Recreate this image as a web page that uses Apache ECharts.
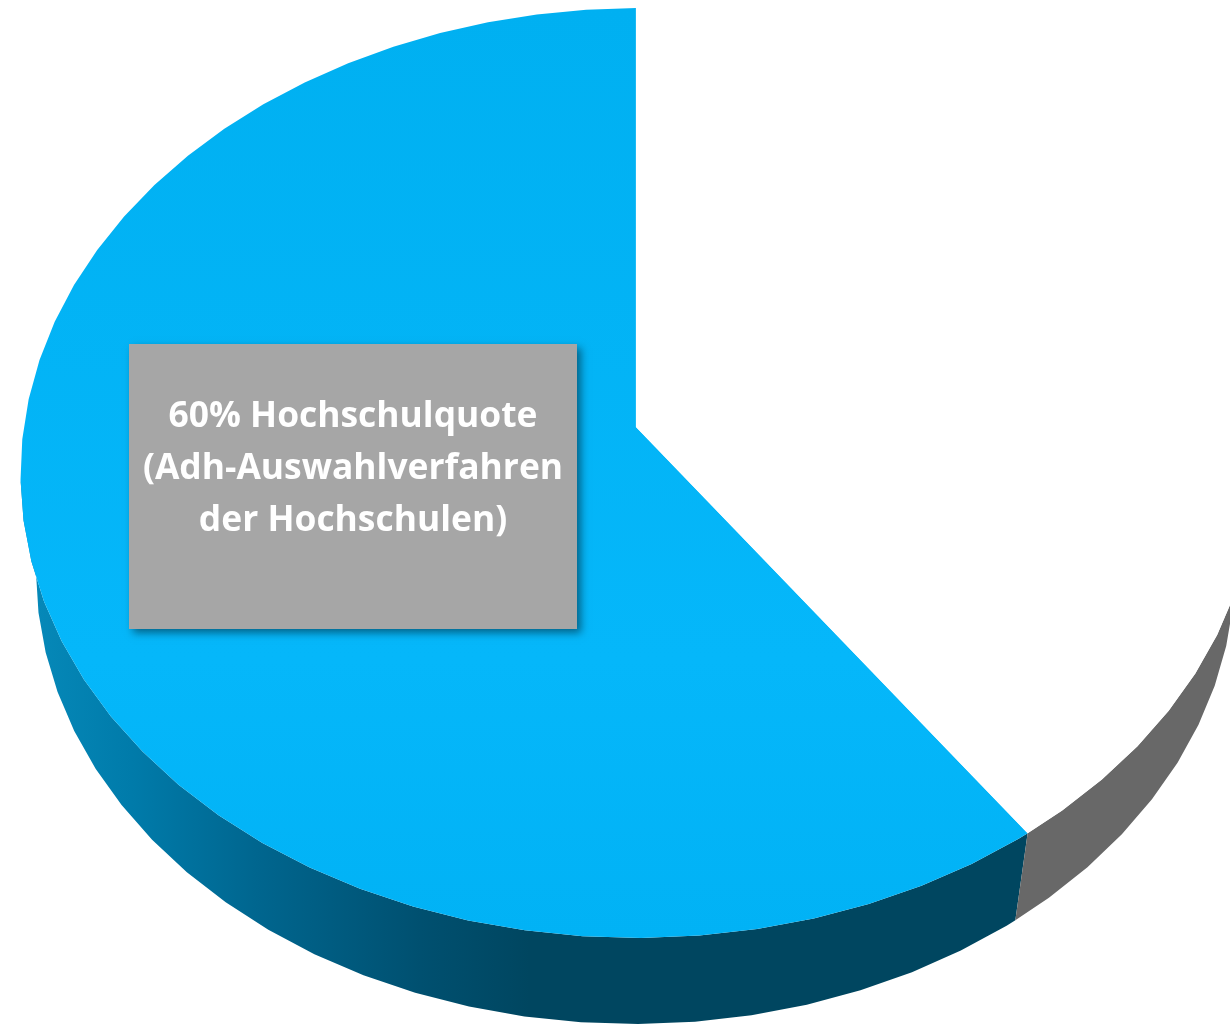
<!DOCTYPE html>
<html>
<head>
<meta charset="utf-8">
<style>html,body{margin:0;padding:0;background:#fff}#c{width:1230px;height:1024px}</style>
<script src="https://cdn.jsdelivr.net/npm/echarts@6/dist/echarts.min.js"></script>
</head>
<body>
<div id="c"></div>
<script>
const sliceNames = ['Hochschulquote', 'Weitere Quoten'];
const sliceValues = [60, 40];
const labelLines = ['60% Hochschulquote', '(Adh-Auswahlverfahren', 'der Hochschulen)'];

const topColors = [['#00B0F1', '#05B7FA', '#01B2F5'], ['#FFFFFF', '#FFFFFF', '#FFFFFF']];
const wallColors = [null, '#686868'];

const topRim = { cx: 638.5, cy: 473, rx: 618, ry: 465, persp: -0.08 };
const lowRim = { cx: 635.5, cy: 570, rx: 599.5, ry: 454, persp: -0.088 };
const hubRim = { cx: 636.2, cy: 473, rx: 618, ry: 465, persp: -0.099 };
const tilt = -0.0055, facet = 5;
const wallLimit = [-95, 90]; // the part of the side wall that can show under the top face

function project(deg, rim, r) {
  const t = deg * Math.PI / 180;
  const u = r * Math.sin(t), v = -r * Math.cos(t);
  const d = 1 + rim.persp * v;
  const up = u * Math.sqrt(1 - rim.persp * rim.persp) / d;
  const vp = (v + rim.persp) / d;
  return [
    rim.cx + rim.rx * up - tilt * rim.ry * vp,
    rim.cy + rim.ry * vp + tilt * rim.rx * up
  ];
}
function arc(a0, a1, rim) {
  const pts = [project(a0, rim, 1)];
  for (let a = Math.ceil(a0 / facet) * facet; a < a1; a += facet) {
    if (a > a0) pts.push(project(a, rim, 1));
  }
  pts.push(project(a1, rim, 1));
  return pts;
}
const total = sliceValues.reduce((a, b) => a + b, 0);
// first slice runs anticlockwise from twelve o'clock, the next one clockwise from there
function sweep(i) {
  const first = sliceValues[0] / total * 360;
  return i === 0 ? [-first, 0] : [0, 360 - first];
}
const L = (x0, y0, x1, y1, stops) => new echarts.graphic.LinearGradient(x0, y0, x1, y1, stops, true);
const wallFill = [L(32, 0, 530, 0, [
  { offset: 0, color: '#0689B9' },
  { offset: 0.2, color: '#007BAA' },
  { offset: 0.45, color: '#00668F' },
  { offset: 0.78, color: '#005070' },
  { offset: 1, color: '#004660' }
]), wallColors[1]];
const faceFill = i => L(0, 8, 0, 938, [
  { offset: 0, color: topColors[i][0] },
  { offset: 0.7, color: topColors[i][1] },
  { offset: 1, color: topColors[i][2] }
]);

const option = {
  animation: false,
  backgroundColor: '#fff',
  graphic: [{
    type: 'rect', z: 100, silent: true,
    shape: { x: 129, y: 344, width: 448, height: 285 },
    style: { fill: '#A6A6A6', shadowBlur: 8, shadowOffsetX: 4, shadowOffsetY: 4, shadowColor: 'rgba(0,0,0,0.45)' }
  }, {
    type: 'text', z: 101, silent: true, x: 353, y: 391,
    style: {
      text: labelLines.join('\n'), fill: '#fff', align: 'center', verticalAlign: 'top',
      font: 'bold 35.4px "Open Sans"', lineHeight: 52
    }
  }],
  series: [{
    type: 'custom', coordinateSystem: 'none', silent: true, z: 1,
    data: sliceNames.map((n, i) => ({ name: n, value: sliceValues[i] })),
    renderItem(p) {
      const s = sweep(p.dataIndex);
      const a0 = p.dataIndex === 0 ? s[0] : Math.max(s[0], wallLimit[1]);
      const a1 = p.dataIndex === 0 ? Math.min(s[1], wallLimit[0]) : s[1];
      const pts = arc(a0, a1, topRim).concat(arc(a0, a1, lowRim).reverse());
      return { type: 'polygon', shape: { points: pts }, style: { fill: wallFill[p.dataIndex] } };
    }
  }, {
    type: 'custom', coordinateSystem: 'none', silent: true, z: 2,
    data: sliceNames.map((n, i) => ({ name: n, value: sliceValues[i] })),
    renderItem(p) {
      const [a0, a1] = sweep(p.dataIndex);
      const pts = [project(0, hubRim, 0)].concat(arc(a0, a1, topRim));
      return { type: 'polygon', shape: { points: pts }, style: { fill: faceFill(p.dataIndex) } };
    }
  }]
};
echarts.init(document.getElementById('c')).setOption(option);
</script>
</body>
</html>
